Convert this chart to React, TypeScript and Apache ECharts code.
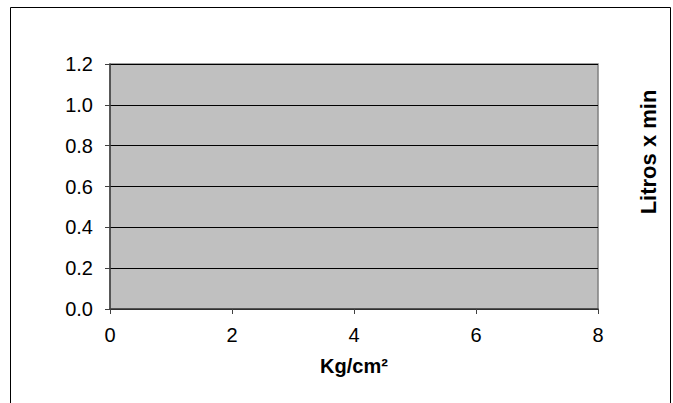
import React, { useEffect, useRef } from "react";
import * as echarts from "echarts";

const xTicks = [0, 2, 4, 6, 8];
const yTicks = [0.0, 0.2, 0.4, 0.6, 0.8, 1.0, 1.2];
const seriesData: [number, number][] = [];
const xTitle = "Kg/cm²";
const yTitle = "Litros x min";

export default function App() {
  const ref = useRef<HTMLDivElement>(null);
  useEffect(() => {
    const chart = echarts.init(ref.current!, null, { renderer: "svg" });
    const font = "Liberation Sans, Arial, sans-serif";
    chart.setOption({
      animation: false,
      backgroundColor: "#ffffff",
      grid: {
        left: 110,
        top: 64,
        right: 75,
        bottom: 94,
        show: true,
        backgroundColor: "#c0c0c0",
        borderColor: "#808080",
        borderWidth: 1.5,
      },
      xAxis: {
        type: "value",
        min: xTicks[0],
        max: xTicks[xTicks.length - 1],
        interval: 2,
        name: xTitle,
        nameLocation: "middle",
        nameGap: 47,
        nameTextStyle: { fontFamily: font, fontSize: 20, fontWeight: "bold", color: "#000" },
        axisLine: { show: true, lineStyle: { color: "#404040", width: 1.5 } },
        axisTick: { show: true, length: 5, lineStyle: { color: "#404040" } },
        axisLabel: { fontFamily: font, fontSize: 20, color: "#000", margin: 16 },
        splitLine: { show: false },
      },
      yAxis: {
        type: "value",
        min: yTicks[0],
        max: yTicks[yTicks.length - 1],
        interval: 0.2,
        axisLine: { show: true, lineStyle: { color: "#404040", width: 1.5 } },
        axisTick: { show: true, length: 5, lineStyle: { color: "#404040" } },
        axisLabel: {
          fontFamily: font,
          fontSize: 20,
          color: "#000",
          margin: 17,
          formatter: (v: number) => v.toFixed(1),
        },
        splitLine: { show: true, lineStyle: { color: "#000", width: 1 } },
      },
      graphic: [
        {
          type: "rect",
          shape: { x: 10.5, y: 7.5, width: 660, height: 420 },
          style: { fill: "none", stroke: "#000", lineWidth: 1 },
          silent: true,
        },
        {
          type: "text",
          x: 648,
          y: 152,
          rotation: Math.PI / 2,
          style: {
            text: yTitle,
            fontFamily: font,
            fontSize: 22,
            fontWeight: "bold",
            fill: "#000",
            align: "center",
            verticalAlign: "middle",
          },
        },
      ],
      series: [{ type: "scatter", data: seriesData, symbolSize: 6 }],
    });
    return () => chart.dispose();
  }, []);
  return (
    <div
      ref={ref}
      style={{ position: "fixed", left: 0, top: 0, width: 673, height: 403 }}
    />
  );
}
